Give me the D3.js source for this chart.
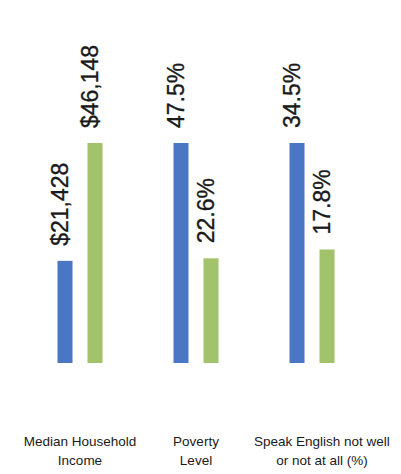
<!DOCTYPE html>
<html>
<head>
<meta charset="utf-8">
<script src="https://cdn.jsdelivr.net/npm/d3@7"></script>
<style>
  html, body { margin: 0; padding: 0; background: #ffffff; }
  svg { display: block; }
  text { font-family: "Liberation Sans", Arial, sans-serif; fill: #1a1a1a; }
</style>
</head>
<body>
<svg id="chart" width="401" height="474"></svg>
<script>
// Three indicators, each compared for two areas (blue vs. green)
const categories = ["Median Household Income", "Poverty Level", "Speak English not well or not at all (%)"];
const categoryLines = [["Median Household", "Income"], ["Poverty", "Level"], ["Speak English not well", "or not at all (%)"]];
const seriesNames = ["area", "comparison"];
const blueValues = [21428, 47.5, 34.5];
const greenValues = [46148, 22.6, 17.8];
const blueLabels = ["$21,428", "47.5%", "34.5%"];
const greenLabels = ["$46,148", "22.6%", "17.8%"];

const colors = { area: "#4a77c4", comparison: "#a2c26c" };

const svg = d3.select("#chart");
const baseY = 363, topY = 143;

const x0 = d3.scaleBand().domain(categories).range([22, 370]);
const x1 = d3.scaleBand().domain(seriesNames).range([-30, 30]).paddingInner(0.5).paddingOuter(0.25);

// each indicator has its own units, so each gets its own vertical scale
const yScales = categories.map((c, i) =>
  d3.scaleLinear().domain([0, Math.max(blueValues[i], greenValues[i])]).range([baseY, topY]));

const rows = [];
categories.forEach((c, i) => {
  rows.push({ cat: c, i, series: "area", value: blueValues[i], label: blueLabels[i] });
  rows.push({ cat: c, i, series: "comparison", value: greenValues[i], label: greenLabels[i] });
});

const cx = d => x0(d.cat) + x0.bandwidth() / 2 + x1(d.series);

svg.append("g").selectAll("rect").data(rows).join("rect")
  .attr("x", d => cx(d))
  .attr("width", x1.bandwidth())
  .attr("y", d => yScales[d.i](d.value))
  .attr("height", d => baseY - yScales[d.i](d.value))
  .attr("fill", d => colors[d.series]);

// rotated value labels above each bar
svg.append("g").selectAll("text").data(rows).join("text")
  .attr("transform", d => {
    const px = cx(d) + x1.bandwidth() / 2;
    const py = yScales[d.i](d.value) - 15;
    return `translate(${px},${py}) rotate(-90)`;
  })
  .attr("dy", "0.15em")
  .attr("text-anchor", "start")
  .style("font-size", "23px")
  .style("stroke", "#1a1a1a")
  .style("stroke-width", "0.35px")
  .text(d => d.label);

// category names under the bars
const cats = svg.append("g").selectAll("text").data(categories).join("text")
  .attr("x", c => x0(c) + x0.bandwidth() / 2)
  .attr("y", 446)
  .attr("text-anchor", "middle")
  .style("font-size", "13.5px");
cats.selectAll("tspan").data((c, i) => categoryLines[i]).join("tspan")
  .attr("x", function() { return d3.select(this.parentNode).attr("x"); })
  .attr("dy", (d, j) => j === 0 ? 0 : 19)
  .text(d => d);

// a name wider than its group slides right so it stays clear of its neighbour
cats.each(function(c) {
  const w = this.getBBox().width;
  const over = Math.max(0, w - x0.bandwidth());
  if (over > 0) {
    const nx = x0(c) + x0.bandwidth() / 2 + over / 2;
    d3.select(this).attr("x", nx).selectAll("tspan").attr("x", nx);
  }
});
</script>
</body>
</html>
